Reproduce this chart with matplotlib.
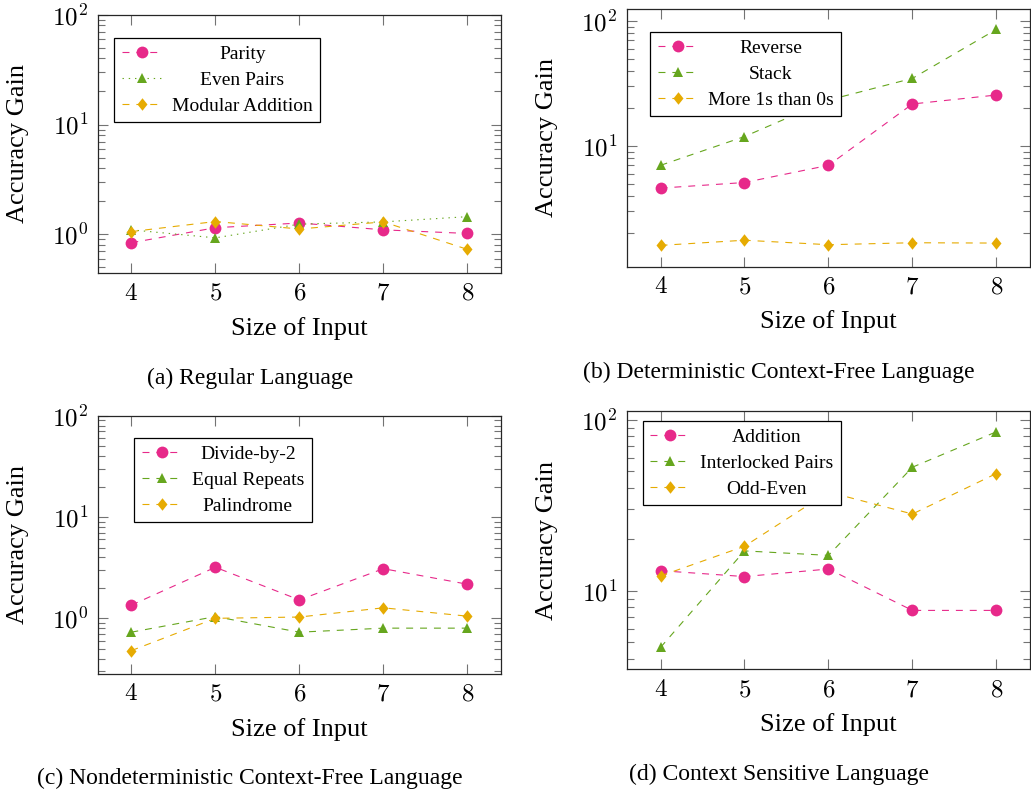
import numpy as np
import matplotlib
matplotlib.use("Agg")
import matplotlib.pyplot as plt
from matplotlib.ticker import LogLocator, NullFormatter, FixedLocator, FuncFormatter

plt.rcParams['font.family'] = ['Liberation Serif', 'DejaVu Serif']
plt.rcParams['mathtext.fontset'] = 'cm'
plt.rcParams['lines.scale_dashes'] = False

# data
sizes = [4, 5, 6, 7, 8]

parity = [0.84, 1.15, 1.27, 1.10, 1.02]
even_pairs = [1.10, 0.93, 1.24, 1.30, 1.45]
modular_addition = [1.06, 1.31, 1.12, 1.30, 0.73]

reverse = [4.6, 5.1, 7.0, 21.7, 25.6]
stack = [7.0, 11.9, 23.3, 34.8, 85.8]
more_ones = [1.60, 1.76, 1.62, 1.68, 1.67]

divide_by_2 = [1.35, 3.19, 1.52, 3.09, 2.17]
equal_repeats = [0.73, 1.04, 0.73, 0.80, 0.80]
palindrome = [0.48, 1.00, 1.03, 1.27, 1.05]

addition = [13.1, 12.1, 13.4, 7.67, 7.67]
interlocked = [4.66, 17.1, 16.1, 52.8, 85.1]
odd_even = [12.2, 18.2, 37.8, 28.1, 48.5]

pink = '#E7298A'
green = '#66A61E'
orange = '#E6AB02'

# pgfplots-like diamond (a bit taller than wide)
diamond = [(0, 1), (0.8, 0), (0, -1), (-0.8, 0), (0, 1)]

fig = plt.figure(figsize=(10.31, 7.9), dpi=100)

panels = [
    dict(rect=[0.0948, 0.6544, 0.3912, 0.3270], ylim=(0.445, 100),
         series=[(parity, 'Parity', pink, 'o', (5, 5)),
                 (even_pairs, 'Even Pairs', green, '^', (1, 3.5)),
                 (modular_addition, 'Modular Addition', orange, 'D', (5, 5))],
         leg=(16.6, 23), caption='(a) Regular Language', cap=(250, 378)),
    dict(rect=[0.6081, 0.6624, 0.3909, 0.3262], ylim=(1.08, 125),
         series=[(reverse, 'Reverse', pink, 'o', (5, 5)),
                 (stack, 'Stack', green, '^', (5, 5)),
                 (more_ones, 'More 1s than 0s', orange, 'D', (5, 5))],
         leg=(23, 22.7), caption='(b) Deterministic Context-Free Language', cap=(779, 372)),
    dict(rect=[0.0948, 0.1472, 0.3912, 0.3266], ylim=(0.284, 100),
         series=[(divide_by_2, 'Divide-by-2', pink, 'o', (5, 5)),
                 (equal_repeats, 'Equal Repeats', green, '^', (5, 5)),
                 (palindrome, 'Palindrome', orange, 'D', (5, 5))],
         leg=(36.3, 22), caption='(c) Nondeterministic Context-Free Language', cap=(250, 778)),
    dict(rect=[0.6081, 0.1528, 0.3909, 0.3273], ylim=(3.47, 113),
         series=[(addition, 'Addition', pink, 'o', (5, 5)),
                 (interlocked, 'Interlocked Pairs', green, '^', (5, 5)),
                 (odd_even, 'Odd-Even', orange, 'D', (5, 5))],
         leg=(15.7, 10), caption='(d) Context Sensitive Language', cap=(779, 774)),
]

mstyle = {'o': ('o', 8.5), '^': ('^', 7.0), 'D': (diamond, 9.0)}

legends = []
for p in panels:
    ax = fig.add_axes(p['rect'])
    for vals, lab, col, mk, ds in p['series']:
        m, ms = mstyle[mk]
        ax.plot(sizes, vals, color=col, lw=0.8, dashes=ds, marker=m,
                markersize=ms, markeredgewidth=0, label=lab)
    ax.set_yscale('log')
    ax.set_ylim(*p['ylim'])
    ax.set_xlim(3.6, 8.4)
    ax.xaxis.set_major_locator(FixedLocator(sizes))
    ax.xaxis.set_major_formatter(FuncFormatter(lambda v, pos: r'$%d$' % v))
    ax.yaxis.set_major_locator(LogLocator(base=10))
    ax.yaxis.set_minor_locator(LogLocator(base=10, subs=np.arange(2, 10)))
    ax.yaxis.set_major_formatter(FuncFormatter(lambda v, pos: r'$10^{%d}$' % round(np.log10(v))))
    ax.yaxis.set_minor_formatter(NullFormatter())
    ax.tick_params(which='both', direction='in', top=True, right=True,
                   color='0.45', width=0.8, labelsize=18, pad=7)
    ax.tick_params(which='major', length=7.5)
    ax.tick_params(which='minor', length=5.3)
    for s in ax.spines.values():
        s.set_linewidth(0.9)
        s.set_color('0.15')
    ax.set_xlabel('Size of Input', fontsize=19)
    ax.set_ylabel('Accuracy Gain', fontsize=19)
    ax.xaxis.set_label_coords(0.5, -0.17)
    ax.yaxis.set_label_coords(-0.17, 0.5)

    bw = ax.bbox.width
    bh = ax.bbox.height
    leg = ax.legend(loc='upper left',
                    bbox_to_anchor=(p['leg'][0] / bw, 1 - p['leg'][1] / bh),
                    borderaxespad=0, fontsize=14, fancybox=False, framealpha=1,
                    edgecolor='black', handlelength=2.06, handletextpad=0.5,
                    labelspacing=0.42, borderpad=0.4)
    leg.get_frame().set_linewidth(0.9)
    legends.append(leg)

    fig.text(p['cap'][0] / 1031, 1 - p['cap'][1] / 790, p['caption'],
             ha='center', va='center', fontsize=17)

# center legend texts inside their column like pgfplots does
fig.canvas.draw()
r = fig.canvas.get_renderer()
for leg in legends:
    ws = [t.get_window_extent(r).width for t in leg.get_texts()]
    wmax = max(ws)
    for t, w in zip(leg.get_texts(), ws):
        t.set_x((wmax - w) / 2)

fig.savefig('out.png', dpi=100)
